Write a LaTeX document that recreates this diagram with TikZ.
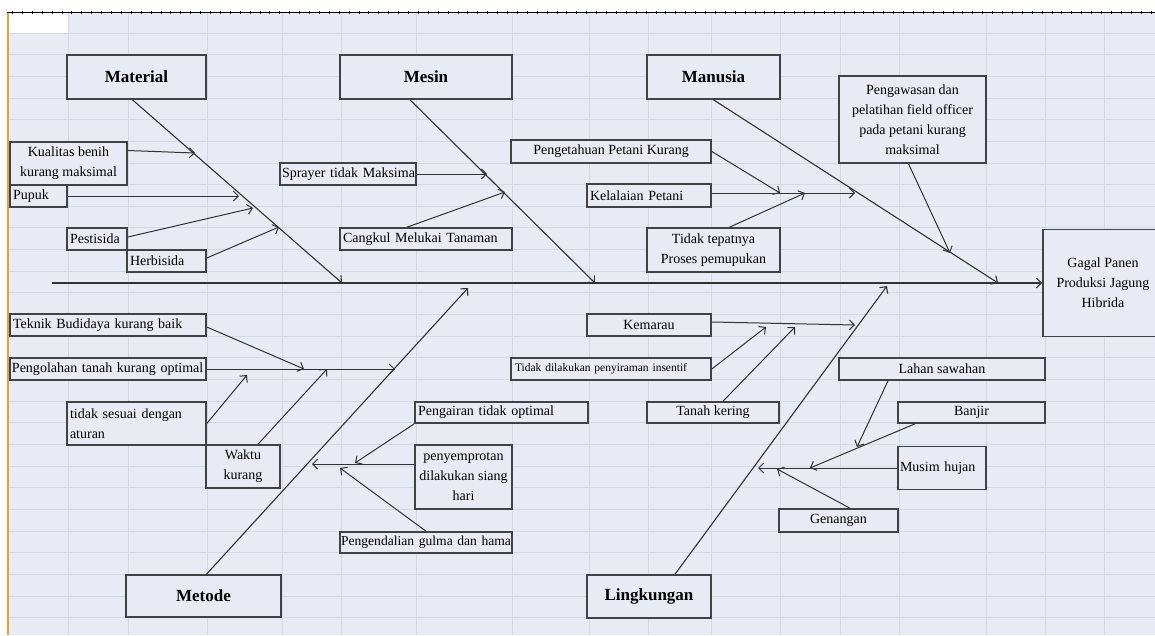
\documentclass[tikz,border=0pt]{standalone}
\usepackage{fontspec}
\setmainfont{Liberation Serif}
\usetikzlibrary{arrows.meta}

\definecolor{sheetbg}{RGB}{232,235,244}
\definecolor{gridc}{RGB}{211,217,231}
\definecolor{linec}{RGB}{50,50,50}
\definecolor{boxc}{RGB}{66,66,70}
\definecolor{tabc}{RGB}{240,160,50}

\begin{document}
\begin{tikzpicture}[
			x=1pt, y=-1pt,
			>={Straight Barb[length=5pt,width=10pt]},
			gridline/.style={draw=gridc, line width=0.8pt},
			box/.style={
				draw=boxc,
				line width=1.6pt,
				fill=sheetbg,
				inner xsep=3pt,
				inner ysep=1pt,
				font=\fontsize{14}{20}\selectfont
			},
			cat/.style={box, minimum height=44pt, font=\fontsize{17}{20}\selectfont\bfseries},
			ctext/.style={box, align=center},
			ltext/.style={box, align=left},
			bone/.style={draw=linec, line width=1pt, ->},
			spine/.style={draw=linec, line width=1.1pt, ->}
			]
			
			\useasboundingbox (0,0) rectangle (1155,635);
			
			%--------------------------------------------------
			% Sheet
			%--------------------------------------------------
			
			\fill[white] (0,0) rectangle (1155,635);
			\fill[sheetbg] (9,13) rectangle (1155,635);
			\fill[white] (9,13) rectangle (68,33);
			
			\foreach \gx in {68,128,207,282,341,416,512,589,648,711,780,840,899,986,1045,1104}
			\draw[gridline] (\gx,13) -- (\gx,635);
			
			\foreach \k in {0,...,27}
			\draw[gridline] (9,33+21.65*\k) -- (1155,33+21.65*\k);
			
			\draw[tabc, line width=2pt] (8,12) -- (8,635);
			\draw[black, line width=1.4pt] (7,12.5) -- (1155,12.5);
			\draw[black, line width=3.5pt, dash pattern=on 0.9pt off 9pt] (12,12.5) -- (1155,12.5);
			
			%--------------------------------------------------
			% Categories
			%--------------------------------------------------
			
			\node (material) [cat, minimum width=139pt] at (136.5,77) {Material};
			
			\node (mesin) [cat, minimum width=172pt] at (426,77) {Mesin};
			
			\node (manusia) [cat, minimum width=133pt] at (713.5,77) {Manusia};
			
			\node (metode) [cat, minimum width=155pt, minimum height=42pt] at (203.5,596) {Metode};
			
			\node (lingkungan) [cat, minimum width=124pt, minimum height=43pt] at (649,596.5) {Lingkungan};
			
			\node (gagal) [ctext, minimum width=120pt, minimum height=107pt] at (1103,283) {Gagal Panen\\Produksi Jagung\\Hibrida};
			
			%--------------------------------------------------
			% Causes
			%--------------------------------------------------
			
			% material
			\node (kualitas) [ctext, minimum width=117pt, minimum height=43pt] at (68.5,163.5) {Kualitas benih\\kurang maksimal};
			
			\node (pupuk) [ltext, text width=51pt, minimum height=22pt] at (38.5,196) {\mbox{Pupuk}};
			
			\node (pestisida) [ltext, text width=54pt, minimum height=22pt] at (97,239) {\mbox{Pestisida}};
			
			\node (herbisida) [ltext, text width=73pt, minimum height=22pt] at (166.5,261) {\mbox{Herbisida}};
			
			% mesin
			\node (sprayer) [ltext, text width=132pt, inner xsep=2pt, minimum height=22pt] at (348,174) {\mbox{Sprayer tidak Maksima}};
			
			\node (cangkul) [ltext, text width=166pt, minimum height=22pt] at (426,239) {\mbox{Cangkul Melukai Tanaman}};
			
			% manusia
			\node (pengetahuan) [ctext, minimum width=200pt, minimum height=23pt] at (611,151.5) {Pengetahuan Petani Kurang};
			
			\node (kelalaian) [ltext, text width=118pt, minimum height=23pt] at (649,195.5) {\mbox{Kelalaian Petani}};
			
			\node (tepat) [ctext, minimum width=133pt, minimum height=44pt] at (713.5,250) {Tidak tepatnya\\Proses pemupukan};
			
			\node (pengawasan) [ctext, minimum width=147pt, minimum height=87pt] at (912.5,119.5) {Pengawasan dan\\pelatihan field officer\\pada petani kurang\\maksimal};
			
			% metode
			\node (teknik) [ltext, text width=190pt, minimum height=22pt] at (108,325) {\mbox{Teknik Budidaya kurang baik}};
			
			\node (pengolahan) [ltext, text width=192pt, inner xsep=2pt, minimum height=22pt] at (108,369) {\mbox{Pengolahan tanah kurang optimal}};
			
			\node (sesuai) [ltext, text width=133pt, minimum height=43pt] at (136.5,423.5) {tidak sesuai dengan\\aturan};
			
			\node (waktu) [ctext, minimum width=74pt, minimum height=43pt] at (243,466.5) {Waktu\\kurang};
			
			\node (pengairan) [ltext, text width=167pt, minimum height=21pt] at (501.5,412.5) {\mbox{Pengairan tidak optimal}};
			
			\node (semprot) [ctext, minimum width=97pt, minimum height=64pt] at (463.5,477) {penyemprotan\\dilakukan siang\\hari};
			
			\node (gulma) [ltext, text width=170pt, inner xsep=1pt, minimum height=21pt, font=\fontsize{13.6}{20}\selectfont] at (426,542.5) {\mbox{Pengendalian gulma dan hama}};
			
			% lingkungan
			\node (kemarau) [ctext, minimum width=124pt, minimum height=22pt] at (649,325) {Kemarau};
			
			\node (siram) [ltext, text width=192pt, inner xsep=4pt, minimum height=22pt, font=\fontsize{11.5}{14}\selectfont] at (611,369) {\mbox{Tidak dilakukan penyiraman insentif}};
			
			\node (kering) [ctext, minimum width=132pt, minimum height=21pt] at (713,412.5) {Tanah kering};
			
			\node (lahan) [ctext, minimum width=206pt, minimum height=22pt] at (942,369) {Lahan sawahan};
			
			\node (banjir) [ctext, minimum width=147pt, minimum height=21pt] at (971.5,412.5) {Banjir};
			
			\node (musim) [ltext, text width=84pt, inner xsep=2pt, minimum height=43pt] at (942,468) {\mbox{Musim hujan}};
			
			\node (genangan) [ctext, minimum width=119pt, minimum height=23pt] at (838.5,520.5) {Genangan};
			
			%--------------------------------------------------
			% Arrow ends
			%--------------------------------------------------
			
			\coordinate (tail) at (52,283);
			\coordinate (matTip) at (342,283);
			\coordinate (mesTip) at (595,283);
			\coordinate (manTip) at (998,283);
			\coordinate (metTip) at (468,288);
			\coordinate (linTip) at (887,286);
			
			\coordinate (kualitasTip) at (195,153);
			\coordinate (pupukTip) at (239,196);
			\coordinate (pestisidaTip) at (253,208);
			\coordinate (herbisidaTip) at (279,227);
			
			\coordinate (sprayerTip) at (487,174);
			\coordinate (cangkulTip) at (505,192);
			
			\coordinate (kelalaianTip) at (855,193);
			\coordinate (pengetahuanTip) at (780,193);
			\coordinate (tepatTip) at (805,193);
			\coordinate (pengawasanTip) at (950,253);
			
			\coordinate (pengolahanTip) at (395,369);
			\coordinate (teknikTip) at (304,369);
			\coordinate (sesuaiTip) at (247,375);
			\coordinate (waktuTip) at (327,369);
			\coordinate (semprotTip) at (312,464);
			\coordinate (pengairanTip) at (355,463);
			\coordinate (gulmaTip) at (340,468);
			
			\coordinate (kemarauTip) at (855,325);
			\coordinate (siramTip) at (766,327);
			\coordinate (keringTip) at (795,327);
			\coordinate (musimTip) at (758,468);
			\coordinate (lahanTip) at (857,447);
			\coordinate (banjirTip) at (810,468);
			\coordinate (genanganTip) at (777,469);
			
			%--------------------------------------------------
			% Spines
			%--------------------------------------------------
			
			\draw[spine] (tail) -- (gagal.west);
			\draw[spine] ([xshift=-4pt]material.south) -- (matTip);
			\draw[spine] ([xshift=-16pt]mesin.south) -- (mesTip);
			\draw[spine] (manusia.south) -- (manTip);
			\draw[spine] ([xshift=3pt]metode.north) -- (metTip);
			\draw[spine] ([xshift=26pt]lingkungan.north) -- (linTip);
			
			%--------------------------------------------------
			% Bones
			%--------------------------------------------------
			
			\draw[bone] ([yshift=13pt]kualitas.east) -- (kualitasTip);
			\draw[bone] (pupuk.east) -- (pupukTip);
			\draw[bone] ([yshift=2pt]pestisida.east) -- (pestisidaTip);
			\draw[bone] ([yshift=3pt]herbisida.east) -- (herbisidaTip);
			
			\draw[bone] (sprayer.east) -- (sprayerTip);
			\draw[bone] ([xshift=-19pt]cangkul.north) -- (cangkulTip);
			
			\draw[bone] ([yshift=2.5pt]kelalaian.east) -- (kelalaianTip);
			\draw[bone] (pengetahuan.east) -- (pengetahuanTip);
			\draw[bone] ([xshift=16pt]tepat.north) -- (tepatTip);
			\draw[bone] ([xshift=-4pt]pengawasan.south) -- (pengawasanTip);
			
			\draw[bone] (pengolahan.east) -- (pengolahanTip);
			\draw[bone] ([yshift=-2pt]teknik.east) -- (teknikTip);
			\draw[bone] (sesuai.east) -- (sesuaiTip);
			\draw[bone] ([xshift=15pt]waktu.north) -- (waktuTip);
			\draw[bone] ([yshift=13pt]semprot.west) -- (semprotTip);
			\draw[bone] (pengairan.south west) -- (pengairanTip);
			\draw[bone] (gulma.north) -- (gulmaTip);
			
			\draw[bone] ([yshift=3pt]kemarau.east) -- (kemarauTip);
			\draw[bone] (siram.east) -- (siramTip);
			\draw[bone] ([xshift=10pt]kering.north) -- (keringTip);
			\draw[bone] (musim.west) -- (musimTip);
			\draw[bone] ([xshift=-54pt]lahan.south) -- (lahanTip);
			\draw[bone] ([xshift=-56.5pt]banjir.south) -- (banjirTip);
			\draw[bone] ([xshift=11.5pt]genangan.north) -- (genanganTip);
			
		\end{tikzpicture}
\end{document}
